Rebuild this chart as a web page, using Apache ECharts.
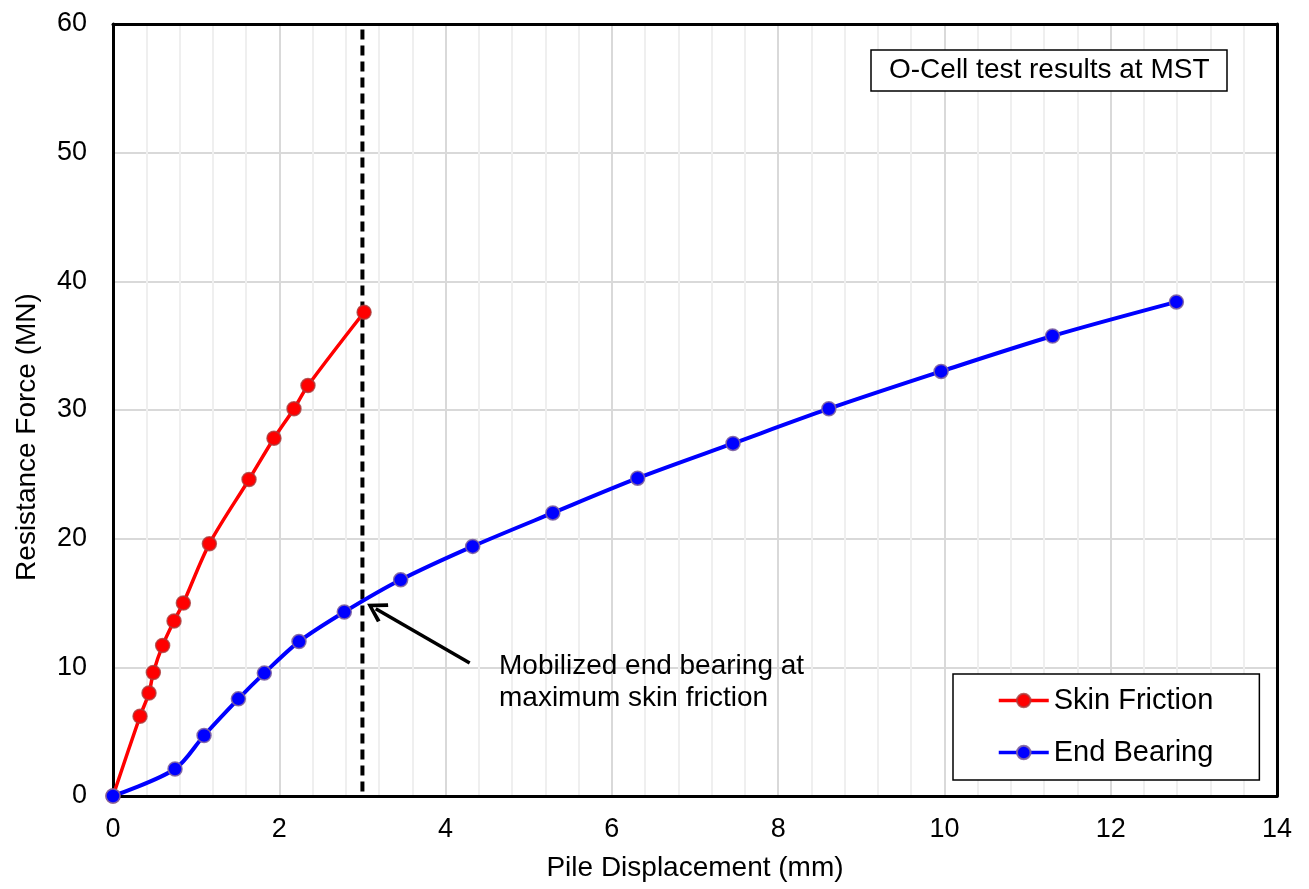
<!DOCTYPE html>
<html>
<head>
<meta charset="utf-8">
<script src="https://cdn.jsdelivr.net/npm/echarts@6/dist/echarts.min.js"></script>
<style>
  html, body { margin: 0; padding: 0; background: #fff; }
  #main { width: 1309px; height: 889px; }
</style>
</head>
<body>
<div id="main"></div>
<script>
const myChart = echarts.init(document.getElementById('main'));

// values
const skinDisp = [0, 0.325, 0.433, 0.485, 0.597, 0.734, 0.846, 1.159, 1.636, 1.936, 2.177, 2.345, 3.02];
const skinForce = [0, 6.2, 8.0, 9.6, 11.7, 13.6, 15.0, 19.6, 24.6, 27.8, 30.1, 31.9, 37.6];
const endDisp = [0, 0.746, 1.095, 1.508, 1.82, 2.237, 2.782, 3.46, 4.326, 5.29, 6.31, 7.457, 8.61, 9.96, 11.3, 12.79];
const endForce = [0, 2.1, 4.7, 7.55, 9.55, 12.0, 14.3, 16.8, 19.4, 22.0, 24.7, 27.4, 30.1, 33.0, 35.75, 38.4];
const maxSkinDisp = 3.0; // dashed line position
const arrowFrom = [4.29, 10.34];
const arrowTo = [3.16, 14.55];

const font = 'Arial, "Liberation Sans", sans-serif';
const toPairs = (xs, ys) => xs.map((x, i) => [x, ys[i]]);
const frameAxis = { show: true, axisLine: { show: true, onZero: false, lineStyle: { color: '#000', width: 3 } },
    axisTick: { show: false }, axisLabel: { show: false }, splitLine: { show: false } };

let option = {
    backgroundColor: '#fff',
    animation: false,
    textStyle: { fontFamily: font, color: '#000' },
    title: {
        text: 'O-Cell test results at MST',
        left: 871,
        top: 50,
        padding: [6, 18, 7, 18],
        borderColor: '#000',
        borderWidth: 1.5,
        backgroundColor: '#fff',
        textStyle: { fontFamily: font, fontSize: 28, fontWeight: 'normal', color: '#000' }
    },
    legend: {
        data: ['Skin Friction', 'End Bearing'],
        orient: 'vertical',
        left: 953,
        top: 674,
        padding: [12, 46, 13, 44],
        itemGap: 23,
        itemWidth: 50,
        itemHeight: 17,
        borderColor: '#000',
        borderWidth: 1.5,
        backgroundColor: '#fff',
        lineStyle: { width: 3.5 },
        textStyle: { fontFamily: font, fontSize: 29, color: '#000' }
    },
    grid: {
        left: 113,
        top: 24,
        right: 32,
        bottom: 93,
        show: true,
        borderWidth: 0,
        backgroundColor: '#fff'
    },
    xAxis: [{
        type: 'value',
        min: 0,
        max: 14,
        interval: 2,
        name: 'Pile Displacement (mm)',
        nameLocation: 'middle',
        nameGap: 58,
        nameTextStyle: { fontFamily: font, fontSize: 28, color: '#000' },
        axisLine: { show: true, onZero: false, lineStyle: { color: '#000', width: 3 } },
        axisTick: { show: false },
        axisLabel: { fontFamily: font, fontSize: 27, color: '#000', margin: 20 },
        splitLine: { show: true, lineStyle: { color: '#d9d9d9', width: 2 } },
        minorTick: { show: false, splitNumber: 5 },
        minorSplitLine: { show: true, lineStyle: { color: '#efefef', width: 2 } }
    }, Object.assign({ type: 'value', position: 'top', min: 0, max: 14 }, frameAxis)],
    yAxis: [{
        type: 'value',
        min: 0,
        max: 60,
        interval: 10,
        name: 'Resistance Force (MN)',
        nameLocation: 'middle',
        nameGap: 72,
        nameTextStyle: { fontFamily: font, fontSize: 28, color: '#000', padding: [0, 54, 0, 0] },
        axisLine: { show: true, onZero: false, lineStyle: { color: '#000', width: 3 } },
        axisTick: { show: false },
        axisLabel: { fontFamily: font, fontSize: 27, color: '#000', margin: 26 },
        splitLine: { show: true, lineStyle: { color: '#d9d9d9', width: 2 } }
    }, Object.assign({ type: 'value', position: 'right', min: 0, max: 60 }, frameAxis)],
    graphic: [{
        type: 'text',
        left: 499,
        top: 650,
        z: 100,
        style: {
            text: 'Mobilized end bearing at\nmaximum skin friction',
            font: '28px ' + font,
            lineHeight: 32,
            fill: '#000'
        }
    }],
    series: [{
        name: 'max skin friction',
        type: 'line',
        data: [[maxSkinDisp, 0.35], [maxSkinDisp, 60]],
        showSymbol: false,
        symbol: 'none',
        silent: true,
        z: 1,
        lineStyle: { color: '#000', width: 4, type: [10, 6] },
        markLine: {
            silent: true,
            symbol: ['none', 'path://M10,0 L20,16 L17,18 L10,6 L3,18 L0,16 Z'],
            symbolSize: [22, 20],
            label: { show: false },
            lineStyle: { color: '#000', width: 3.5, type: 'solid' },
            data: [[{ coord: arrowFrom }, { coord: arrowTo }]]
        }
    }, {
        name: 'Skin Friction',
        type: 'line',
        data: toPairs(skinDisp, skinForce),
        smooth: 0.3,
        symbol: 'circle',
        symbolSize: 14,
        z: 3,
        lineStyle: { color: '#ff0000', width: 3.5 },
        itemStyle: { color: '#ff0000', borderColor: 'rgba(170,60,60,0.8)', borderWidth: 1.5 }
    }, {
        name: 'End Bearing',
        type: 'line',
        data: toPairs(endDisp, endForce),
        smooth: 0.3,
        symbol: 'circle',
        symbolSize: 14,
        z: 3,
        lineStyle: { color: '#0000ff', width: 4 },
        itemStyle: { color: '#0000ff', borderColor: 'rgba(128,100,162,0.9)', borderWidth: 1.5 }
    }]
};

myChart.setOption(option);
</script>
</body>
</html>
